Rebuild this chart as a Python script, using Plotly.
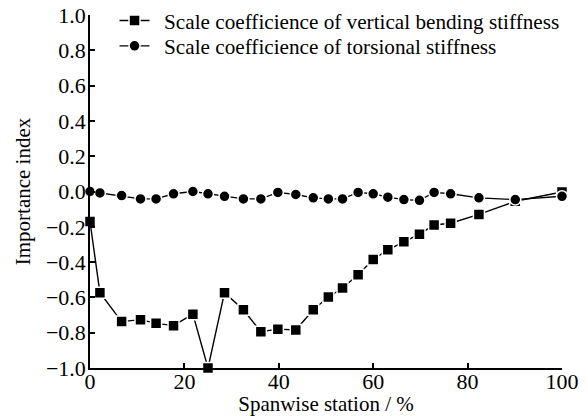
import plotly.graph_objects as go

station = [0, 2.1, 6.7, 10.7, 14, 17.7, 21.8, 25, 28.5, 32.5, 36.2, 39.8, 43.6,
           47.3, 50.5, 53.5, 56.8, 60, 63.1, 66.5, 69.8, 72.9, 76.4, 82.4, 90.1, 100]
bending = [-0.17, -0.573, -0.737, -0.726, -0.747, -0.76, -0.695, -1.0, -0.573, -0.67,
           -0.794, -0.78, -0.785, -0.67, -0.598, -0.547, -0.472, -0.385, -0.33, -0.284,
           -0.242, -0.19, -0.18, -0.13, -0.055, -0.003]
torsion = [0.0, -0.008, -0.023, -0.042, -0.042, -0.013, 0.0, -0.013, -0.027, -0.042,
           -0.042, -0.005, -0.017, -0.036, -0.042, -0.042, -0.005, -0.013, -0.032, -0.046,
           -0.05, -0.005, -0.013, -0.036, -0.046, -0.027]
names = ["Scale coefficience of vertical bending stiffness",
         "Scale coefficience of torsional stiffness"]
x_ticks = [0, 20, 40, 60, 80, 100]
y_ticks = [-1.0, -0.8, -0.6, -0.4, -0.2, 0.0, 0.2, 0.4, 0.6, 0.8, 1.0]

FONT = "Liberation Serif, Times New Roman, serif"
GAP = "\u00a0\u2009"

fig = go.Figure()
fig.add_trace(go.Scatter(x=station, y=bending, mode="lines+markers", name=GAP + names[0],
                         line=dict(color="black", width=1.4),
                         marker=dict(symbol="square", size=11, color="black",
                                     line=dict(color="white", width=1.5)),
                         cliponaxis=False, legend="legend"))
fig.add_trace(go.Scatter(x=station, y=torsion, mode="lines+markers", name=GAP + names[1],
                         line=dict(color="black", width=1.4),
                         marker=dict(symbol="circle", size=11, color="black",
                                     line=dict(color="white", width=1.5)),
                         cliponaxis=False, legend="legend2"))

axis_common = dict(showline=True, linecolor="black", linewidth=1.5, ticks="inside",
                   ticklen=5, tickwidth=1.5, tickcolor="black", showgrid=False,
                   zeroline=False, ticklabeloverflow="allow",
                   tickfont=dict(family=FONT, size=22, color="black"))

legend_common = dict(xanchor="left", yanchor="middle", bgcolor="rgba(0,0,0,0)",
                     font=dict(family=FONT, size=21.2, color="black"), itemwidth=30)

fig.update_layout(
    width=588, height=416,
    margin=dict(l=90, r=26, t=15, b=48, autoexpand=False),
    paper_bgcolor="white", plot_bgcolor="white",
    font=dict(family=FONT, color="black", size=21),
    xaxis=dict(range=[0, 100], tickvals=x_ticks, ticktext=[str(v) for v in x_ticks],
               ticklabelstandoff=-7,
               title=dict(text="Spanwise station / %", font=dict(family=FONT, size=21), standoff=2),
               **axis_common),
    yaxis=dict(range=[-1, 1], tickvals=y_ticks,
               ticktext=["%.1f" % v if v >= 0 else "\u2212%.1f" % abs(v) for v in y_ticks],
               ticklabelstandoff=-2,
               title=dict(text="Importance index", font=dict(family=FONT, size=21), standoff=10),
               **axis_common),
    legend=dict(x=0.052, y=0.984, **legend_common),
    legend2=dict(x=0.052, y=0.912, **legend_common),
    showlegend=True,
)

# remove the default 8px page margin so the figure fills the window exactly
fig.write_html("out.html", config={"displayModeBar": False},
               post_script="document.body.style.margin='0';")
